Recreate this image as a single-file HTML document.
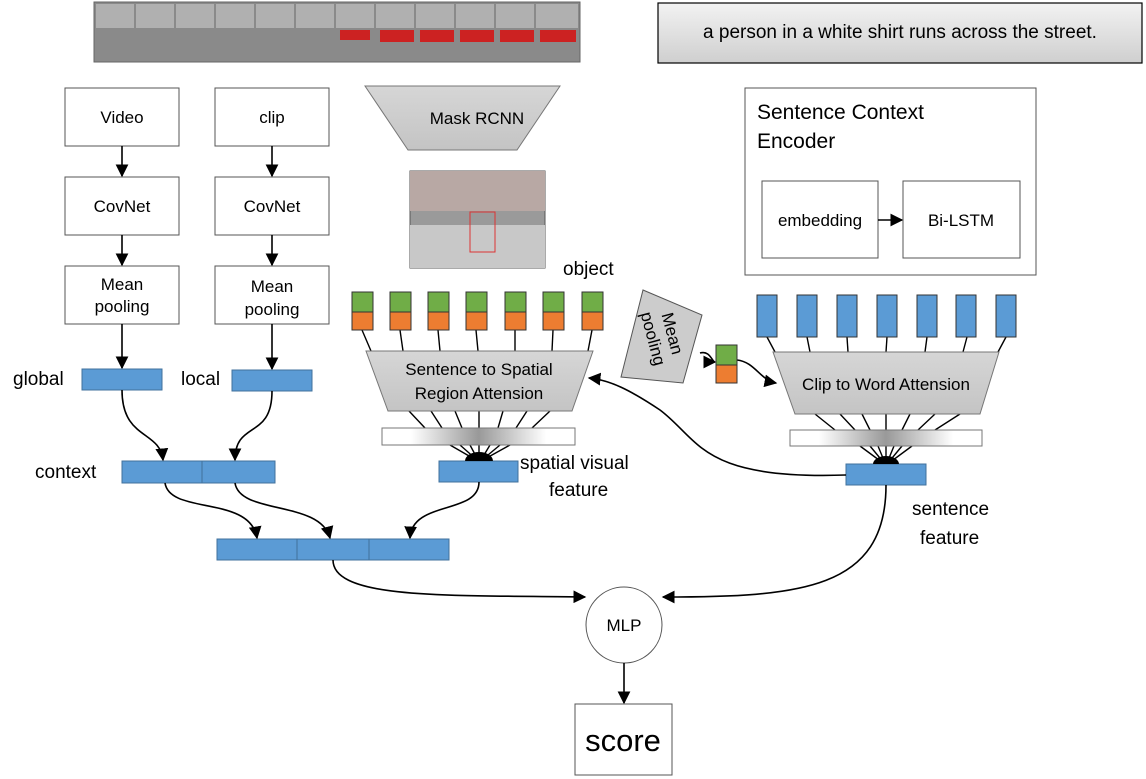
<!DOCTYPE html>
<html><head><meta charset="utf-8"><style>body{margin:0;background:#fff}svg{display:block;font-family:"Liberation Sans","DejaVu Sans",sans-serif}</style></head><body>
<svg width="1146" height="779" viewBox="0 0 1146 779" xmlns="http://www.w3.org/2000/svg">
<defs>
<marker id="a" viewBox="0 0 10 10" refX="9" refY="5" markerWidth="8" markerHeight="8" orient="auto-start-reverse"><path d="M0,0L10,5L0,10z" fill="#000"/></marker>
<linearGradient id="sg" x1="0" y1="0" x2="0" y2="1"><stop offset="0" stop-color="#f2f2f2"/><stop offset="1" stop-color="#cfcfcf"/></linearGradient>
<linearGradient id="bg" x1="0" y1="0" x2="1" y2="0"><stop offset="0" stop-color="#fff"/><stop offset=".15" stop-color="#fff"/><stop offset=".5" stop-color="#999"/><stop offset=".85" stop-color="#fff"/><stop offset="1" stop-color="#fff"/></linearGradient>
<linearGradient id="tg" x1="0" y1="0" x2="0" y2="1"><stop offset="0" stop-color="#d6d6d6"/><stop offset="1" stop-color="#c4c4c4"/></linearGradient>
</defs>
<!-- filmstrip -->
<rect x="94" y="2" width="486" height="60" fill="#8a8a8a" stroke="#666"/>
<g fill="#b0b0b0">
<rect x="96" y="4" width="38" height="24"/><rect x="136" y="4" width="38" height="24"/><rect x="176" y="4" width="38" height="24"/><rect x="216" y="4" width="38" height="24"/><rect x="256" y="4" width="38" height="24"/><rect x="296" y="4" width="38" height="24"/><rect x="336" y="4" width="38" height="24"/><rect x="376" y="4" width="38" height="24"/><rect x="416" y="4" width="38" height="24"/><rect x="456" y="4" width="38" height="24"/><rect x="496" y="4" width="38" height="24"/><rect x="536" y="4" width="42" height="24"/></g>
<g fill="#c22"><rect x="340" y="30" width="30" height="10"/><rect x="380" y="30" width="34" height="12"/><rect x="420" y="30" width="34" height="12"/><rect x="460" y="30" width="34" height="12"/><rect x="500" y="30" width="34" height="12"/><rect x="540" y="30" width="36" height="12"/></g>
<!-- sentence -->
<rect x="658" y="3" width="484" height="60" fill="url(#sg)" stroke="#000" stroke-width="1.2"/>
<text x="900" y="38" font-size="19" text-anchor="middle">a person in a white shirt runs across the street.</text>
<!-- left boxes -->
<g fill="#fff" stroke="#555" stroke-width="1">
<rect x="65" y="88" width="114" height="58"/><rect x="215" y="88" width="114" height="58"/>
<rect x="65" y="177" width="114" height="58"/><rect x="215" y="177" width="114" height="58"/>
<rect x="65" y="266" width="114" height="58"/><rect x="215" y="266" width="114" height="58"/>
</g>
<g font-size="17" text-anchor="middle">
<text x="122" y="123">Video</text><text x="272" y="123">clip</text>
<text x="122" y="212">CovNet</text><text x="272" y="212">CovNet</text>
<text x="122" y="290">Mean</text><text x="122" y="312">pooling</text>
<text x="272" y="292">Mean</text><text x="272" y="315">pooling</text>
</g>
<g stroke="#000" stroke-width="1.6" marker-end="url(#a)">
<line x1="122" y1="146" x2="122" y2="176"/><line x1="272" y1="146" x2="272" y2="176"/>
<line x1="122" y1="235" x2="122" y2="265"/><line x1="272" y1="235" x2="272" y2="265"/>
<line x1="122" y1="324" x2="122" y2="368"/><line x1="272" y1="324" x2="272" y2="369"/>
</g>
<g fill="#5b9bd5" stroke="#41719c">
<rect x="82" y="369" width="80" height="21"/><rect x="232" y="370" width="80" height="21"/>
<rect x="122" y="461" width="80" height="22"/><rect x="202" y="461" width="73" height="22"/>
<rect x="217" y="539" width="80" height="21"/><rect x="297" y="539" width="72" height="21"/><rect x="369" y="539" width="80" height="21"/>
<rect x="439" y="461" width="79" height="21"/>
<rect x="846" y="464" width="80" height="21"/>
</g>
<g font-size="19"><text x="13" y="385">global</text><text x="181" y="385">local</text><text x="35" y="478">context</text>
<text x="520" y="469">spatial visual</text><text x="549" y="496">feature</text>
<text x="912" y="515">sentence</text><text x="920" y="544">feature</text>
<text x="563" y="275">object</text></g>
<!-- curves -->
<g fill="none" stroke="#000" stroke-width="1.6" marker-end="url(#a)">
<path d="M122,390C122,440 160,430 163,460"/>
<path d="M272,391C272,440 235,420 235,460"/>
<path d="M165,483C170,515 250,495 257,538"/>
<path d="M235,483C240,515 320,500 330,538"/>
<path d="M479,482C479,515 412,500 410,538"/>
<path d="M333,560C333,600 450,595 585,597"/>
<path d="M886,485C886,590 800,597 663,597"/>
<path d="M846,475C700,480 700,440 660,410C630,390 610,380 589,378"/>
<path d="M700,353C710,350 712,362 715,362"/>
<path d="M737,360C755,362 760,380 776,383"/>
</g>
<!-- Mask RCNN -->
<path d="M365,86L560,86L517,150L408,150Z" fill="url(#tg)" stroke="#777"/>
<text x="477" y="124" font-size="17" text-anchor="middle">Mask RCNN</text>
<!-- image -->
<rect x="410" y="171" width="135" height="97" fill="#9a9a9a" stroke="#555"/>
<rect x="410" y="171" width="135" height="40" fill="#b8a8a4"/>
<rect x="410" y="225" width="135" height="43" fill="#c8c8c8"/>
<rect x="470" y="212" width="25" height="40" fill="none" stroke="#d33"/>
<!-- object blocks -->
<g stroke="#000" stroke-width="1.4">
<line x1="362" y1="330" x2="371" y2="351"/><line x1="400" y1="330" x2="403" y2="351"/><line x1="438" y1="330" x2="440" y2="351"/><line x1="476" y1="330" x2="478" y2="351"/><line x1="515" y1="330" x2="515" y2="351"/><line x1="553" y1="330" x2="552" y2="351"/><line x1="592" y1="330" x2="588" y2="351"/>
<line x1="409" y1="411" x2="425" y2="428"/><line x1="431" y1="411" x2="442" y2="428"/><line x1="455" y1="411" x2="462" y2="428"/><line x1="479" y1="411" x2="479" y2="428"/><line x1="503" y1="411" x2="498" y2="428"/><line x1="527" y1="411" x2="516" y2="428"/><line x1="550" y1="411" x2="532" y2="428"/>
<line x1="450" y1="445" x2="476" y2="460"/><line x1="460" y1="445" x2="477" y2="460"/><line x1="470" y1="445" x2="478" y2="460"/><line x1="479" y1="445" x2="479" y2="460"/><line x1="490" y1="445" x2="481" y2="460"/><line x1="500" y1="445" x2="482" y2="460"/><line x1="510" y1="445" x2="483" y2="460"/>
<line x1="767" y1="337" x2="775" y2="352"/><line x1="807" y1="337" x2="810" y2="352"/><line x1="847" y1="337" x2="848" y2="352"/><line x1="887" y1="337" x2="886" y2="352"/><line x1="927" y1="337" x2="925" y2="352"/><line x1="967" y1="337" x2="963" y2="352"/><line x1="1006" y1="337" x2="998" y2="352"/>
<line x1="815" y1="414" x2="835" y2="430"/><line x1="840" y1="414" x2="855" y2="430"/><line x1="862" y1="414" x2="870" y2="430"/><line x1="886" y1="414" x2="886" y2="430"/><line x1="910" y1="414" x2="902" y2="430"/><line x1="935" y1="414" x2="918" y2="430"/><line x1="960" y1="414" x2="935" y2="430"/>
<line x1="860" y1="446" x2="883" y2="463"/><line x1="870" y1="446" x2="884" y2="463"/><line x1="878" y1="446" x2="885" y2="463"/><line x1="886" y1="446" x2="886" y2="463"/><line x1="894" y1="446" x2="887" y2="463"/><line x1="902" y1="446" x2="888" y2="463"/><line x1="912" y1="446" x2="889" y2="463"/>
</g>
<g stroke="#333"><g fill="#70ad47">
<rect x="352" y="292" width="21" height="20"/><rect x="390" y="292" width="21" height="20"/><rect x="428" y="292" width="21" height="20"/><rect x="466" y="292" width="21" height="20"/><rect x="505" y="292" width="21" height="20"/><rect x="543" y="292" width="21" height="20"/><rect x="582" y="292" width="21" height="20"/><rect x="716" y="345" width="21" height="20"/></g>
<g fill="#ed7d31">
<rect x="352" y="312" width="21" height="18"/><rect x="390" y="312" width="21" height="18"/><rect x="428" y="312" width="21" height="18"/><rect x="466" y="312" width="21" height="18"/><rect x="505" y="312" width="21" height="18"/><rect x="543" y="312" width="21" height="18"/><rect x="582" y="312" width="21" height="18"/><rect x="716" y="365" width="21" height="18"/></g>
<g fill="#5b9bd5">
<rect x="757" y="295" width="20" height="42"/><rect x="797" y="295" width="20" height="42"/><rect x="837" y="295" width="20" height="42"/><rect x="877" y="295" width="20" height="42"/><rect x="917" y="295" width="20" height="42"/><rect x="956" y="295" width="20" height="42"/><rect x="996" y="295" width="20" height="42"/></g></g>
<path d="M366,351L593,351L572,411L388,411Z" fill="url(#tg)" stroke="#777"/>
<text x="479" y="375" font-size="17" text-anchor="middle">Sentence to Spatial</text>
<text x="479" y="399" font-size="17" text-anchor="middle">Region Attension</text>
<rect x="382" y="428" width="193" height="17" fill="url(#bg)" stroke="#777"/>
<path d="M465,461A14,9 0 0 1 493,461Z" fill="#000"/>
<path d="M773,352L999,352L980,414L795,414Z" fill="url(#tg)" stroke="#777"/>
<text x="886" y="390" font-size="17" text-anchor="middle">Clip to Word Attension</text>
<rect x="790" y="430" width="192" height="16" fill="url(#bg)" stroke="#777"/>
<path d="M873,464A13,8 0 0 1 899,464Z" fill="#000"/>
<!-- mean pooling rotated -->
<path d="M643,290L702,315L683,383L621,377Z" fill="#ccc" stroke="#555"/>
<g transform="translate(663,336) rotate(75)" font-size="17" text-anchor="middle"><text x="0" y="-4">Mean</text><text x="0" y="16">pooling</text></g>
<!-- encoder -->
<rect x="745" y="88" width="291" height="187" fill="#fff" stroke="#555"/>
<text x="757" y="119" font-size="21">Sentence Context</text><text x="757" y="148" font-size="21">Encoder</text>
<rect x="762" y="181" width="116" height="77" fill="#fff" stroke="#555"/><rect x="903" y="181" width="117" height="77" fill="#fff" stroke="#555"/>
<text x="820" y="226" font-size="17" text-anchor="middle">embedding</text><text x="961" y="226" font-size="17" text-anchor="middle">Bi-LSTM</text>
<line x1="878" y1="220" x2="902" y2="220" stroke="#000" stroke-width="1.6" marker-end="url(#a)"/>
<!-- MLP & score -->
<circle cx="624" cy="625" r="38" fill="#fff" stroke="#555"/>
<text x="624" y="631" font-size="17" text-anchor="middle">MLP</text>
<line x1="624" y1="663" x2="624" y2="703" stroke="#000" stroke-width="1.6" marker-end="url(#a)"/>
<rect x="575" y="704" width="97" height="71" fill="#fff" stroke="#555"/>
<text x="623" y="751" font-size="31" text-anchor="middle">score</text>
</svg>
</body></html>
